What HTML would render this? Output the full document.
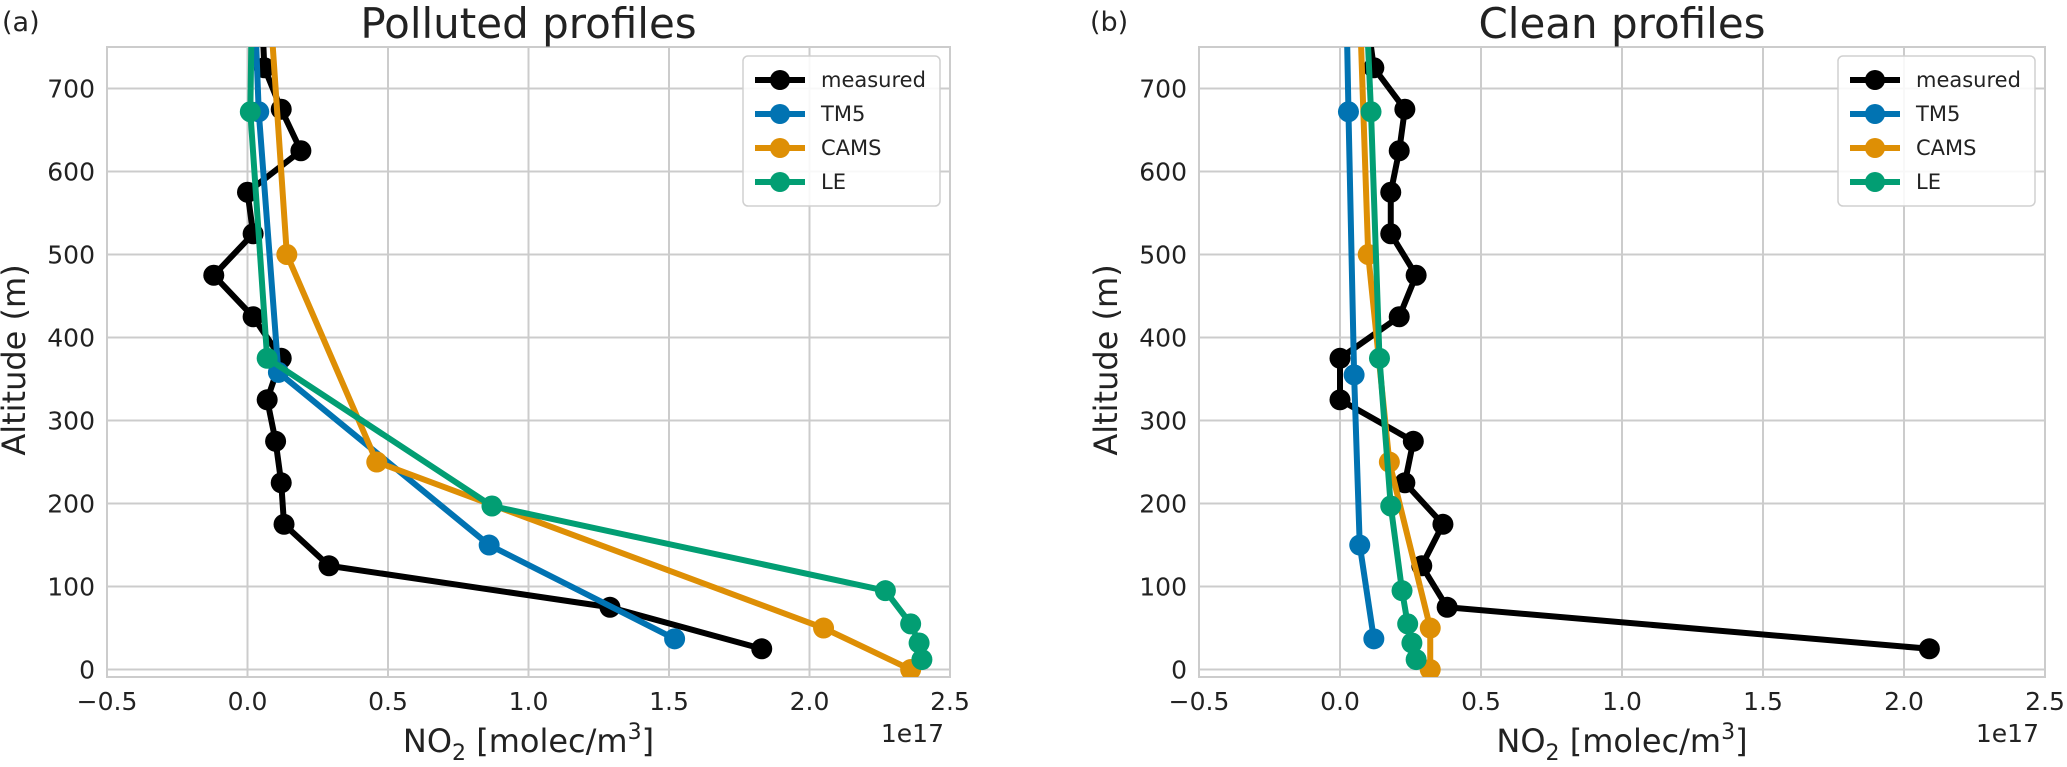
<!DOCTYPE html>
<html><head><meta charset="utf-8"><style>
body{margin:0;background:#fff;}
svg text{font-family:"DejaVu Sans","Liberation Sans",sans-serif;fill:#222;}
</style></head><body>
<svg id="c" width="2067" height="762" xmlns="http://www.w3.org/2000/svg"></svg>
<script>
const xTicks=[-0.5,0.0,0.5,1.0,1.5,2.0,2.5];
const xTickLabels=["\u22120.5","0.0","0.5","1.0","1.5","2.0","2.5"];
const yTicks=[0,100,200,300,400,500,600,700];
const seriesNames=["measured","TM5","CAMS","LE"];
const seriesColors=["#000000","#0173b2","#de8f05","#029e73"];
// Polluted panel (x in 1e17 molec/m3, y altitude m)
const polMeasX=[0.05,0.06,0.12,0.19,0.0,0.02,-0.12,0.02,0.12,0.07,0.1,0.12,0.13,0.29,1.29,1.83];
const polMeasY=[800,725,675,625,575,525,475,425,375,325,275,225,175,125,75,25];
const polTM5X=[0.02,0.04,0.11,0.86,1.52];
const polTM5Y=[850,672,358,150,37];
const polCAMSX=[0.04,0.14,0.46,2.05,2.36];
const polCAMSY=[1000,500,250,50,0];
const polLEX=[0.02,0.01,0.07,0.87,2.27,2.36,2.39,2.4];
const polLEY=[900,672,375,197,95,55,32,12];
// Clean panel
const clnMeasX=[0.09,0.12,0.23,0.21,0.18,0.18,0.27,0.21,0.0,0.0,0.26,0.23,0.365,0.29,0.38,2.09];
const clnMeasY=[800,725,675,625,575,525,475,425,375,325,275,225,175,125,75,25];
const clnTM5X=[0.02,0.03,0.05,0.07,0.12];
const clnTM5Y=[850,672,355,150,37];
const clnCAMSX=[0.05,0.1,0.175,0.32,0.32];
const clnCAMSY=[1000,500,250,50,0];
const clnLEX=[0.08,0.11,0.14,0.18,0.22,0.24,0.255,0.27];
const clnLEY=[900,672,375,197,95,55,32,12];

const NS="http://www.w3.org/2000/svg";
const svg=document.getElementById('c');
function mk(tag,attrs,parent){const e=document.createElementNS(NS,tag);for(const k in attrs)e.setAttribute(k,attrs[k]);(parent||svg).appendChild(e);return e;}

function panel(id,left,right,title,letter,letterX,data){
  const top=47,bottom=677,xmin=-0.5,xmax=2.5,ymin=-9,ymax=750;
  const sx=v=>left+(v-xmin)/(xmax-xmin)*(right-left);
  const sy=v=>bottom-(v-ymin)/(ymax-ymin)*(bottom-top);
  const g=mk('g',{});
  
  
  const cp=mk('clipPath',{id:id+'clip'},g);
  mk('rect',{x:left,y:top,width:right-left,height:bottom-top},cp);
  xTicks.forEach((t,i)=>{
    const l=mk('line',{x1:sx(t),x2:sx(t),y1:top,y2:bottom,stroke:'#cccccc','stroke-width':2},g);
    
    
    const tx=mk('text',{x:sx(t),y:710,'font-size':25,'text-anchor':'middle'},g);
    tx.textContent=xTickLabels[i];
    
    
  });
  yTicks.forEach(t=>{
    const l=mk('line',{x1:left,x2:right,y1:sy(t),y2:sy(t),stroke:'#cccccc','stroke-width':2},g);
    
    
    const tx=mk('text',{x:left-12,y:sy(t)+9,'font-size':25,'text-anchor':'end'},g);
    tx.textContent=t;
    
    
  });
  const fr=mk('rect',{x:left,y:top,width:right-left,height:bottom-top,fill:'none',stroke:'#cccccc','stroke-width':2},g);
  
  
  const pg=mk('g',{'clip-path':'url(#'+id+'clip)'},g);
  data.forEach((s,i)=>{
    const pts=s[0].map((x,j)=>sx(x)+','+sy(s[1][j])).join(' ');
    const pl=mk('polyline',{points:pts,fill:'none',stroke:seriesColors[i],'stroke-width':6,'stroke-linejoin':'round'},pg);
    
    
    s[0].forEach((x,j)=>{
      const c=mk('circle',{cx:sx(x),cy:sy(s[1][j]),r:10.5,fill:seriesColors[i]},pg);
      
      
    });
  });
  const tt=mk('text',{x:(left+right)/2,y:38,'font-size':42,'text-anchor':'middle'},g);
  tt.textContent=title;
  
  
  const lt=mk('text',{x:letterX,y:31,'font-size':27},g);
  lt.textContent=letter;
  
  
  const xl=mk('text',{x:(left+right)/2,y:752,'font-size':32,'text-anchor':'middle'},g);
  xl.innerHTML='NO<tspan font-size="22" dy="8">2</tspan><tspan dy="-8"> [molec/m</tspan><tspan font-size="22" dy="-13">3</tspan><tspan dy="13">]</tspan>';
  
  
  const off=mk('text',{x:right-6,y:742,'font-size':25,'text-anchor':'end'},g);
  off.textContent='1e17';
  
  
  const yl=mk('text',{x:0,y:0,'font-size':32,'text-anchor':'middle',transform:'translate('+(left-82)+',360) rotate(-90)'},g);
  yl.textContent='Altitude (m)';
  
  
  // legend
  const lx=right-207,ly=56;
  const lg=mk('g',{},g);
  
  
  mk('rect',{x:lx,y:ly,width:197,height:150,rx:5,fill:'#fff','fill-opacity':0.85,stroke:'#d0d0d0','stroke-width':1.5},lg);
  seriesNames.forEach((n,i)=>{
    const yy=ly+24+i*34;
    const e=mk('g',{},lg);
    
    
    mk('line',{x1:lx+12,x2:lx+62,y1:yy,y2:yy,stroke:seriesColors[i],'stroke-width':6},e);
    mk('circle',{cx:lx+37,cy:yy,r:10,fill:seriesColors[i]},e);
    const t=mk('text',{x:lx+78,y:yy+7,'font-size':21},e);
    t.textContent=n;
  });
}
panel('polluted',107,950,'Polluted profiles','(a)',2,
  [[polMeasX,polMeasY],[polTM5X,polTM5Y],[polCAMSX,polCAMSY],[polLEX,polLEY]]);
panel('clean',1199,2045,'Clean profiles','(b)',1090,
  [[clnMeasX,clnMeasY],[clnTM5X,clnTM5Y],[clnCAMSX,clnCAMSY],[clnLEX,clnLEY]]);
</script>
</body></html>
